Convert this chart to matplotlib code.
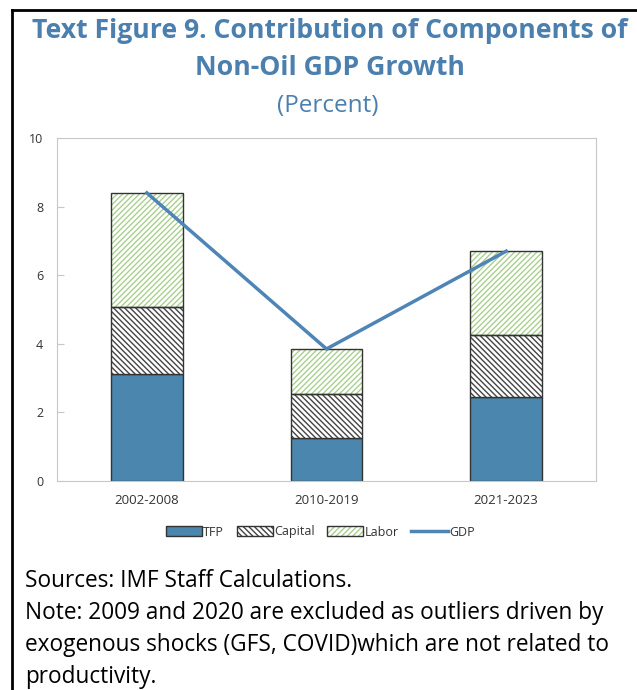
import matplotlib
matplotlib.use("Agg")
import matplotlib.pyplot as plt
from matplotlib.patches import Patch
from matplotlib.lines import Line2D
import numpy as np

categories = ["2002-2008", "2010-2019", "2021-2023"]
tfp = [3.12, 1.25, 2.45]
capital = [1.95, 1.29, 1.81]
labor = [3.33, 1.31, 2.44]
gdp = [8.40, 3.85, 6.70]
yticks = [0, 2, 4, 6, 8, 10]

TITLE_BLUE = "#4a7fae"
TFP_BLUE = "#4a86ae"
LINE_BLUE = "#4f84b6"
GREEN = "#a9d08e"
DARK = "#333333"

plt.rcParams['font.family'] = ['Open Sans', 'DejaVu Sans']
plt.rcParams['hatch.linewidth'] = 1.0

fig = plt.figure(figsize=(6.37, 6.90), dpi=100)
W, H = 637, 690

# Border lines (left and top)
fig.add_artist(Line2D([12/W, 12/W], [0, 1 - 10/H], color="black", lw=2, transform=fig.transFigure))
fig.add_artist(Line2D([12/W, 1], [1 - 10/H, 1 - 10/H], color="black", lw=2, transform=fig.transFigure))

# Titles
fig.text(330/W, 1 - 31/H, "Text Figure 9. Contribution of Components of", ha="center", va="center",
         fontsize=19.2, fontweight="bold", color=TITLE_BLUE)
fig.text(330/W, 1 - 68/H, "Non-Oil GDP Growth", ha="center", va="center",
         fontsize=19.2, fontweight="bold", color=TITLE_BLUE)
fig.text(328/W, 1 - 106/H, "(Percent)", ha="center", va="center",
         fontsize=17.5, color=TITLE_BLUE)

ax = fig.add_axes([57/W, 1 - 481/H, (596 - 57)/W, (481 - 138)/H])
x = np.arange(len(categories))
w = 0.4
tfp_a = np.array(tfp)
cap_a = np.array(capital)
lab_a = np.array(labor)

CAP_HATCH = "\\\\\\\\\\\\"
LAB_HATCH = "//////"
ax.bar(x, tfp_a, w, color=TFP_BLUE, edgecolor=DARK, linewidth=1, zorder=2)
ax.bar(x, cap_a, w, bottom=tfp_a, color="white", edgecolor="#444444", hatch=CAP_HATCH, linewidth=0, zorder=2)
ax.bar(x, cap_a, w, bottom=tfp_a, fill=False, edgecolor=DARK, linewidth=1, zorder=3)
ax.bar(x, lab_a, w, bottom=tfp_a + cap_a, color="white", edgecolor=GREEN, hatch=LAB_HATCH, linewidth=0, zorder=2)
ax.bar(x, lab_a, w, bottom=tfp_a + cap_a, fill=False, edgecolor=DARK, linewidth=1, zorder=3)
ax.plot(x, gdp, color=LINE_BLUE, lw=2.5, zorder=4)

ax.set_xlim(-0.5, 2.5)
ax.set_ylim(0, 10)
ax.set_yticks(yticks)
ax.set_xticks(x)
ax.set_xticklabels(categories)
for s in ax.spines.values():
    s.set_color("#c8c8c8")
ax.tick_params(axis="y", direction="in", length=5, color="#c8c8c8", labelsize=9, labelcolor="#333333", pad=10)
ax.tick_params(axis="x", length=0, labelsize=9.5, labelcolor="#333333", pad=9)

h_tfp = Patch(facecolor=TFP_BLUE, edgecolor=DARK, linewidth=1)
h_cap = (Patch(facecolor="white", edgecolor="#444444", hatch=CAP_HATCH, linewidth=0),
         Patch(fill=False, edgecolor=DARK, linewidth=1))
h_lab = (Patch(facecolor="white", edgecolor=GREEN, hatch=LAB_HATCH, linewidth=0),
         Patch(fill=False, edgecolor=DARK, linewidth=1))
h_gdp = Line2D([], [], color=LINE_BLUE, lw=2.5)
fig.legend([h_tfp, h_cap, h_lab, h_gdp], ["TFP", "Capital", "Labor", "GDP"],
           loc="center", bbox_to_anchor=(320/W, 1 - 532/H), ncol=4, frameon=False,
           fontsize=9, handlelength=2.9, handleheight=0.8, handletextpad=0.1, columnspacing=1.0,
           labelcolor="#333333")

notes = ["Sources: IMF Staff Calculations.",
         "Note: 2009 and 2020 are excluded as outliers driven by",
         "exogenous shocks (GFS, COVID)which are not related to",
         "productivity."]
for i, t in enumerate(notes):
    fig.text(25/W, 1 - (581 + 32*i)/H, t, ha="left", va="center", fontsize=16.3, color="black")

fig.savefig("out.png", dpi=100)
